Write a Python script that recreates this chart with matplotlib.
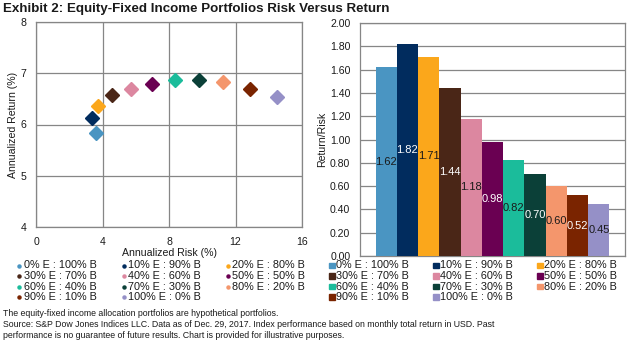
import matplotlib
matplotlib.use("Agg")
import matplotlib.pyplot as plt
from matplotlib.lines import Line2D
from matplotlib.patches import Rectangle

# Portfolio mixes (equity : bond) and their statistics
portfolios = ["0% E : 100% B", "10% E : 90% B", "20% E : 80% B", "30% E : 70% B",
              "40% E : 60% B", "50% E : 50% B", "60% E : 40% B", "70% E : 30% B",
              "80% E : 20% B", "90% E : 10% B", "100% E : 0% B"]
annual_risk = [3.61, 3.39, 3.71, 4.60, 5.72, 6.99, 8.35, 9.82, 11.24, 12.87, 14.50]
annual_return = [5.84, 6.12, 6.37, 6.57, 6.70, 6.80, 6.86, 6.86, 6.82, 6.69, 6.53]
return_risk = [1.62, 1.82, 1.71, 1.44, 1.18, 0.98, 0.82, 0.70, 0.60, 0.52, 0.45]
colors = ["#4A95C2", "#012C5E", "#FBA71B", "#4A2617", "#DC87A0", "#6A0052",
          "#1BBC9B", "#0B4038", "#F4966C", "#7A2400", "#9590C7"]
label_colors = ["#1a1a1a", "white", "#1a1a1a", "white", "#1a1a1a", "white",
                "#1a1a1a", "white", "#1a1a1a", "white", "#1a1a1a"]

x_ticks = [0, 4, 8, 12, 16]
y_ticks = [4, 5, 6, 7, 8]
rr_ticks = [0.0, 0.2, 0.4, 0.6, 0.8, 1.0, 1.2, 1.4, 1.6, 1.8, 2.0]

W, H = 635, 347
plt.rcParams["font.family"] = ["Liberation Sans", "DejaVu Sans"]
fig = plt.figure(figsize=(W / 100, H / 100), dpi=100)

GRID = "#868686"
FS = 7.6
LEG_FS = 7.8


def box(l, t, r, b):
    return [l / W, 1 - b / H, (r - l) / W, (b - t) / H]


# ---- scatter: risk vs return ----
ax1 = fig.add_axes(box(36, 22, 302, 227))
for x, y, c in zip(annual_risk, annual_return, colors):
    ax1.plot(x, y, marker="D", ms=6.8, color=c, mec=c, ls="none", zorder=3)
ax1.set_xlim(0, 16)
ax1.set_ylim(4, 8)
ax1.set_xticks(x_ticks)
ax1.set_yticks(y_ticks)
ax1.grid(True, color=GRID, lw=0.9)
ax1.set_axisbelow(True)
ax1.tick_params(length=0, labelsize=FS, pad=7, colors="#1a1a1a")
ax1.set_xlabel("Annualized Risk (%)", fontsize=FS, labelpad=1, color="#1a1a1a")
ax1.set_ylabel("Annualized Return (%)", fontsize=FS, labelpad=1.5, color="#1a1a1a")
for s in ax1.spines.values():
    s.set_color(GRID)
    s.set_linewidth(0.9)

# ---- bars: return / risk ----
ax2 = fig.add_axes(box(360, 23, 625, 256))
xs = list(range(len(return_risk)))
ax2.bar(xs, return_risk, width=1.0, color=colors, zorder=3)
for x, v, lc in zip(xs, return_risk, label_colors):
    ax2.text(x, v / 2, f"{v:.2f}", ha="center", va="center", fontsize=FS + 0.4,
             color=lc, zorder=4)
ax2.set_xlim(-1.23, 11.23)
ax2.set_ylim(0, 2.0)
ax2.set_yticks(rr_ticks)
ax2.set_yticklabels([f"{t:.2f}" for t in rr_ticks])
ax2.set_xticks([])
ax2.yaxis.grid(True, color=GRID, lw=0.9)
ax2.set_axisbelow(True)
ax2.tick_params(length=0, labelsize=FS, pad=7, colors="#1a1a1a")
ax2.set_ylabel("Return/Risk", fontsize=FS, labelpad=2, color="#1a1a1a")
for s in ax2.spines.values():
    s.set_color(GRID)
    s.set_linewidth(0.9)

# ---- legends (row-major, three columns) ----
row_y = [265.5, 276, 286.5, 297]


def fx(px):
    return px / W


def fy(py):
    return 1 - py / H


for i, (lab, c) in enumerate(zip(portfolios, colors)):
    col, row = i % 3, i // 3
    # left legend, small dots
    mx = 19 + col * 104.5
    fig.add_artist(Line2D([fx(mx)], [fy(row_y[row])], marker="o", ms=2.2,
                          color=c, mec=c, ls="none", transform=fig.transFigure))
    fig.text(fx(mx + 4.5), fy(row_y[row]), lab, fontsize=LEG_FS, va="center",
             ha="left", color="#1a1a1a")
    # right legend, small squares
    sx = 329 + col * 104
    fig.add_artist(Rectangle((fx(sx), fy(row_y[row] + 2.8)), 6 / W, 5.6 / H,
                             color=c, transform=fig.transFigure))
    fig.text(fx(sx + 7.5), fy(row_y[row]), lab, fontsize=LEG_FS, va="center",
             ha="left", color="#1a1a1a")

fig.text(fx(3), fy(9), "Exhibit 2: Equity-Fixed Income Portfolios Risk Versus Return",
         fontsize=9.65, fontweight="bold", va="center", ha="left", color="#1a1a1a")

notes = [
    "The equity-fixed income allocation portfolios are hypothetical portfolios.",
    "Source: S&P Dow Jones Indices LLC. Data as of Dec. 29, 2017. Index performance based on monthly total return in USD. Past",
    "performance is no guarantee of future results. Chart is provided for illustrative purposes.",
]
for ny, line in zip([313, 324.5, 336], notes):
    fig.text(fx(3), fy(ny), line, fontsize=6.3, va="center", ha="left", color="#1a1a1a")

fig.savefig("out.png", dpi=100)
